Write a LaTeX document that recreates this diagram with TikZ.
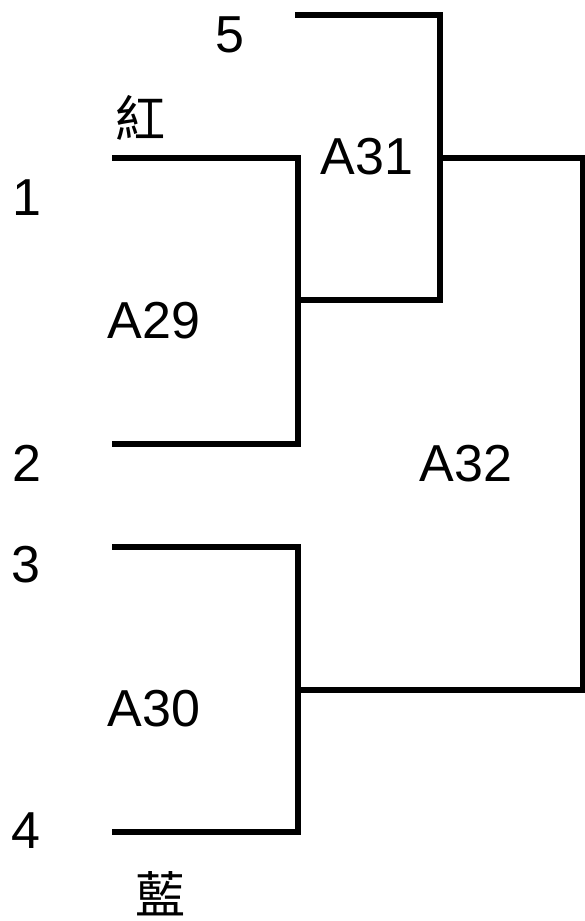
\documentclass[tikz,border=0pt]{standalone}
\usepackage{fontspec}
\setmainfont{Liberation Sans}
\newfontfamily\cjk{Noto Sans CJK TC}
\begin{document}
\begin{tikzpicture}[x=1pt,y=-1pt,
  lbl/.style={inner sep=0pt,anchor=base,font=\fontsize{52}{52}\selectfont},
  cjklbl/.style={inner sep=0pt,font=\cjk\fontsize{50}{50}\selectfont},
  wire/.style={line width=5.5pt,line cap=rect,line join=miter}]
\useasboundingbox (0,0) rectangle (585,921);
% coordinates
\coordinate (t5) at (298,15);
\coordinate (c5) at (440,15);
\coordinate (m31) at (440,158);
\coordinate (b31) at (440,300);
\coordinate (o29) at (300,300);
\coordinate (t1) at (115,158);
\coordinate (c1) at (298,158);
\coordinate (c2) at (298,444);
\coordinate (t2) at (115,444);
\coordinate (r31) at (583,158);
\coordinate (r30) at (583,690);
\coordinate (o30) at (300,690);
\coordinate (t3) at (115,547);
\coordinate (c3) at (298,547);
\coordinate (c4) at (298,832);
\coordinate (t4) at (115,832);
% wires
\draw[wire] (t5) -- (c5) -- (b31) -- (o29);
\draw[wire] (t1) -- (c1) -- (c2) -- (t2);
\draw[wire] (m31) -- (r31) -- (r30) -- (o30);
\draw[wire] (t3) -- (c3) -- (c4) -- (t4);
% labels
\node[lbl] (n5) at (230,52) {5};
\node[lbl] (n1) at (27,215) {1};
\node[lbl] (nA29) at (154,338) {A29};
\node[lbl] (n2) at (27,481) {2};
\node[lbl] (nA32) at (466,481) {A32};
\node[lbl] (n3) at (26,582) {3};
\node[lbl] (nA30) at (154,726) {A30};
\node[lbl] (n4) at (26,848) {4};
\node[lbl] (nA31) at (367,174) {A31};
\node[cjklbl] (red) at (140,118) {紅};
\node[cjklbl] (blue) at (160,894) {藍};
\end{tikzpicture}
\end{document}
